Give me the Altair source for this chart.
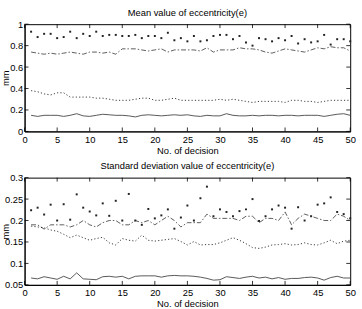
import altair as alt
import pandas as pd

decisions = list(range(1, 51))

mean_dots = [0.93, 0.88, 0.91, 0.91, 0.87, 0.88, 0.93, 0.87, 0.91, 0.89,
             0.93, 0.89, 0.90, 0.90, 0.89, 0.89, 0.90, 0.87, 0.89, 0.89,
             0.87, 0.92, 0.85, 0.87, 0.84, 0.89, 0.84, 0.85, 0.89, 0.90,
             0.90, 0.86, 0.89, 0.83, 0.80, 0.87, 0.86, 0.84, 0.87, 0.85,
             0.89, 0.82, 0.86, 0.83, 0.84, 0.90, 0.81, 0.86, 0.86, 0.84]
mean_dashdot = [0.74, 0.73, 0.72, 0.73, 0.72, 0.73, 0.74, 0.73, 0.72, 0.74,
                0.74, 0.73, 0.74, 0.72, 0.77, 0.77, 0.77, 0.76, 0.75, 0.76,
                0.77, 0.74, 0.76, 0.76, 0.76, 0.76, 0.75, 0.78, 0.74, 0.76,
                0.76, 0.76, 0.78, 0.77, 0.77, 0.76, 0.74, 0.73, 0.75, 0.77,
                0.76, 0.75, 0.74, 0.76, 0.78, 0.77, 0.79, 0.78, 0.78, 0.75]
mean_dotted = [0.38, 0.37, 0.35, 0.34, 0.36, 0.36, 0.32, 0.32, 0.32, 0.32,
               0.31, 0.31, 0.30, 0.29, 0.29, 0.29, 0.30, 0.31, 0.31, 0.29,
               0.29, 0.30, 0.31, 0.29, 0.29, 0.29, 0.29, 0.29, 0.29, 0.30,
               0.29, 0.30, 0.29, 0.28, 0.27, 0.28, 0.28, 0.28, 0.28, 0.27,
               0.29, 0.29, 0.28, 0.28, 0.27, 0.28, 0.29, 0.29, 0.29, 0.29]
mean_solid = [0.15, 0.14, 0.15, 0.15, 0.15, 0.14, 0.15, 0.165, 0.145, 0.14,
              0.15, 0.16, 0.155, 0.15, 0.15, 0.145, 0.135, 0.15, 0.155, 0.15,
              0.145, 0.15, 0.155, 0.15, 0.155, 0.145, 0.14, 0.15, 0.145, 0.145,
              0.165, 0.15, 0.145, 0.145, 0.15, 0.145, 0.15, 0.15, 0.145, 0.15,
              0.15, 0.145, 0.15, 0.15, 0.15, 0.14, 0.15, 0.16, 0.165, 0.15]

std_dots = [0.224, 0.23, 0.214, 0.237, 0.20, 0.238, 0.202, 0.261, 0.23, 0.221,
            0.212, 0.24, 0.211, 0.246, 0.20, 0.262, 0.20, 0.19, 0.227, 0.205,
            0.212, 0.226, 0.181, 0.207, 0.235, 0.20, 0.252, 0.279, 0.21, 0.226,
            0.22, 0.21, 0.222, 0.226, 0.25, 0.199, 0.21, 0.226, 0.235, 0.23,
            0.181, 0.231, 0.20, 0.21, 0.237, 0.24, 0.254, 0.22, 0.215, 0.205]
std_dashdot = [0.19, 0.19, 0.18, 0.19, 0.19, 0.19, 0.185, 0.19, 0.20, 0.19,
               0.185, 0.195, 0.20, 0.20, 0.19, 0.19, 0.20, 0.195, 0.20, 0.19,
               0.20, 0.21, 0.20, 0.185, 0.195, 0.195, 0.195, 0.215, 0.205, 0.205,
               0.205, 0.205, 0.20, 0.21, 0.21, 0.195, 0.205, 0.205, 0.20, 0.22,
               0.19, 0.205, 0.215, 0.21, 0.205, 0.20, 0.20, 0.215, 0.21, 0.20]
std_dotted = [0.187, 0.185, 0.183, 0.178, 0.175, 0.168, 0.16, 0.166, 0.16, 0.154,
              0.158, 0.161, 0.148, 0.143, 0.158, 0.154, 0.152, 0.166, 0.154, 0.152,
              0.154, 0.156, 0.158, 0.151, 0.143, 0.151, 0.143, 0.144, 0.144, 0.148,
              0.154, 0.16, 0.154, 0.146, 0.137, 0.135, 0.138, 0.143, 0.144, 0.146,
              0.143, 0.144, 0.148, 0.144, 0.143, 0.148, 0.154, 0.146, 0.152, 0.154]
std_solid = [0.066, 0.064, 0.069, 0.066, 0.063, 0.07, 0.064, 0.078, 0.064, 0.063,
             0.062, 0.069, 0.07, 0.068, 0.07, 0.064, 0.07, 0.071, 0.071, 0.071,
             0.068, 0.071, 0.072, 0.071, 0.071, 0.07, 0.068, 0.065, 0.061, 0.062,
             0.069, 0.067, 0.065, 0.068, 0.07, 0.066, 0.068, 0.064, 0.067, 0.063,
             0.065, 0.065, 0.067, 0.068, 0.066, 0.061, 0.067, 0.07, 0.066, 0.066]

x_ticks = list(range(0, 51, 5))
mean_ticks = [0, 0.2, 0.4, 0.6, 0.8, 1.0]
std_ticks = [0.05, 0.1, 0.15, 0.2, 0.25, 0.3]

W, H = 331, 109
FONT = "Liberation Sans"
INK = "#222222"
TL = 4  # inward tick length in px


def panel(title, dots, dashdot, dotted, solid, ydomain, yticks):
    df = pd.DataFrame({"x": decisions, "dots": dots, "dashdot": dashdot,
                       "dotted": dotted, "solid": solid})
    xs = alt.Scale(domain=[0, 50], nice=False)
    ys = alt.Scale(domain=ydomain, nice=False, zero=False)
    xaxis = alt.Axis(values=x_ticks, title="No. of decision", ticks=False, grid=False,
                     labelPadding=3, titlePadding=2, format="d",
                     labelOverlap=False, labelFlush=False)
    yaxis = alt.Axis(values=yticks, title="mm", ticks=False, grid=False,
                     labelPadding=2, format="~g", titleX=-19, titleY=H / 2,
                     titleAngle=-90, titleAlign="center", titleBaseline="middle",
                     labelOverlap=False, labelFlush=False)

    def X(f):
        return alt.X(f, scale=xs, axis=xaxis, title="No. of decision")

    def Y(f):
        return alt.Y(f, scale=ys, axis=yaxis, title="mm")

    base = alt.Chart(df)
    pts = base.mark_square(filled=True, size=4, color=INK, opacity=1).encode(
        x=X("x:Q"), y=Y("dots:Q"))
    dd = base.mark_line(strokeDash=[5, 2, 1.5, 2], strokeWidth=0.8, color="#333333").encode(
        x=X("x:Q"), y=Y("dashdot:Q"))
    dt = base.mark_line(strokeDash=[1.2, 2.2], strokeWidth=0.9, color=INK).encode(
        x=X("x:Q"), y=Y("dotted:Q"))
    so = base.mark_line(strokeWidth=0.9, color="#444444").encode(
        x=X("x:Q"), y=Y("solid:Q"))

    xt = alt.Chart(pd.DataFrame({"t": x_ticks}))
    yt = alt.Chart(pd.DataFrame({"v": yticks}))
    tb = xt.mark_rule(color="black", strokeWidth=0.8).encode(
        x=X("t:Q"), y=alt.value(H), y2=alt.value(H - TL))
    tt = xt.mark_rule(color="black", strokeWidth=0.8).encode(
        x=X("t:Q"), y=alt.value(0), y2=alt.value(TL))
    tl = yt.mark_rule(color="black", strokeWidth=0.8).encode(
        y=Y("v:Q"), x=alt.value(0), x2=alt.value(TL))
    tr = yt.mark_rule(color="black", strokeWidth=0.8).encode(
        y=Y("v:Q"), x=alt.value(W - TL), x2=alt.value(W))

    return alt.layer(pts, dd, dt, so, tb, tt, tl, tr).properties(
        width=W, height=H,
        title=alt.TitleParams(title, fontSize=9.5, font=FONT, fontWeight="normal",
                              color="black", anchor="middle", offset=2))


top = panel("Mean value of eccentricity(e)", mean_dots, mean_dashdot, mean_dotted,
            mean_solid, [0, 1], mean_ticks)
bottom = panel("Standard deviation value of eccentricity(e)", std_dots, std_dashdot,
               std_dotted, std_solid, [0.05, 0.3], std_ticks)

chart = alt.vconcat(top, bottom, spacing=5).properties(
    padding={"left": 0, "top": 5, "right": 6, "bottom": 0}
).configure_view(stroke="black", strokeWidth=1).configure_axis(
    labelFont=FONT, titleFont=FONT, labelFontSize=9.5, titleFontSize=9.5,
    titleFontWeight="normal", labelColor="black", titleColor="black",
    domainColor="black", domainWidth=1, labelOverlap=False
)

chart.save("out.html", embed_options={"renderer": "svg", "actions": False})
